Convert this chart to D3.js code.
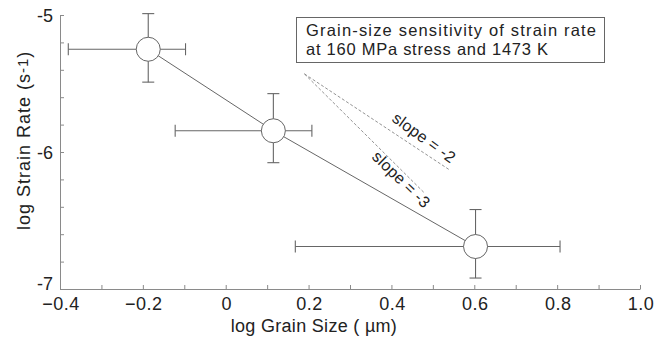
<!DOCTYPE html>
<html>
<head>
<meta charset="utf-8">
<script src="https://cdnjs.cloudflare.com/ajax/libs/d3/7.8.5/d3.min.js"></script>
<style>
  body { margin: 0; background: #fff; }
  svg text { font-family: "Liberation Sans", Arial, sans-serif; fill: #222; }
</style>
</head>
<body>
<div id="chart"></div>
<script>
// data
const grainSize = [-0.187, 0.115, 0.603];
const strainRate = [-5.25, -5.845, -6.69];
const xErrLow = [-0.38, -0.122, 0.168];
const xErrHigh = [-0.097, 0.208, 0.807];
const yErrHigh = [-4.99, -5.574, -6.42];
const yErrLow = [-5.49, -6.078, -6.92];

const xTickLabels = [-0.4, -0.2, 0, 0.2, 0.4, 0.6, 0.8, 1.0];
const yTickLabels = [-5, -6, -7];

// reference slopes (start point, end x, label)
const slopeStart = [0.19, -5.43];
const slopeNames = ["slope = -2", "slope = -3"];
const slopeValues = [-2, -3];
const slopeEndX = [0.54, 0.48];

const width = 662, height = 338;
const margin = { top: 15, right: 22, bottom: 49, left: 60 };

const svg = d3.select("#chart").append("svg")
    .attr("width", width)
    .attr("height", height);

const x = d3.scaleLinear()
    .domain([-0.4, 1.0])
    .range([margin.left, width - margin.right]);

const y = d3.scaleLinear()
    .domain([-7, -5])
    .range([height - margin.bottom, margin.top]);

const axisColor = "#8a8a8a";
const fs = 18;

// x axis
const gx = svg.append("g")
    .attr("transform", `translate(0,${height - margin.bottom})`)
    .call(d3.axisBottom(x).ticks(14).tickSize(-4).tickSizeOuter(0).tickFormat(""));
gx.select(".domain").attr("stroke", axisColor);
gx.selectAll(".tick line").attr("stroke", axisColor);

svg.append("g").selectAll("text")
    .data(xTickLabels)
    .join("text")
    .attr("x", d => x(d) + 1)
    .attr("y", height - margin.bottom + 21)
    .attr("text-anchor", "middle")
    .attr("font-size", fs)
    .attr("letter-spacing", 0.5)
    .text(d => d === 1 ? "1.0" : d3.format("")(d));

// y axis
const gy = svg.append("g")
    .attr("transform", `translate(${margin.left},0)`)
    .call(d3.axisLeft(y).ticks(10).tickSize(-4).tickSizeOuter(0).tickFormat(""));
gy.select(".domain").attr("stroke", axisColor);
gy.selectAll(".tick line").attr("stroke", axisColor);

svg.append("g").selectAll("text")
    .data(yTickLabels)
    .join("text")
    .attr("x", margin.left - 7)
    .attr("y", d => y(d) + (d === -7 ? 1 : 7))
    .attr("text-anchor", "end")
    .attr("font-size", fs)
    .text(d => d);

// axis titles
svg.append("text")
    .attr("x", x(0.213))
    .attr("y", height - 6)
    .attr("text-anchor", "middle")
    .attr("font-size", fs)
    .attr("letter-spacing", 0.3)
    .text("log Grain Size ( \u00b5m)");

const yTitle = svg.append("text")
    .attr("transform", `translate(30,${y(-5.915)}) rotate(-90)`)
    .attr("text-anchor", "middle")
    .attr("font-size", fs)
    .attr("letter-spacing", 1);
yTitle.append("tspan").text("log Strain Rate  (s");
yTitle.append("tspan").attr("font-size", 15).attr("dy", -2).text("-1");
yTitle.append("tspan").attr("dy", 2).text(")");

// reference slope lines
slopeValues.forEach((s, i) => {
  const x1 = slopeStart[0], y1 = slopeStart[1];
  const x2 = slopeEndX[i], y2 = y1 + s * (x2 - x1);
  svg.append("line")
      .attr("x1", x(x1)).attr("y1", y(y1))
      .attr("x2", x(x2)).attr("y2", y(y2))
      .attr("stroke", "#777")
      .attr("stroke-width", 0.8)
      .attr("stroke-dasharray", "3,2");
});

const slopeLabelPos = [[0.479, -5.895], [0.424, -6.2]];
const slopeAngle = [36, 44];
slopeNames.forEach((name, i) => {
  svg.append("text")
      .attr("transform", `translate(${x(slopeLabelPos[i][0])},${y(slopeLabelPos[i][1])}) rotate(${slopeAngle[i]})`)
      .attr("text-anchor", "middle")
      .attr("dy", "0.35em")
      .attr("font-size", 16)
      .attr("letter-spacing", 0.3)
      .text(name);
});

// data line
const pts = grainSize.map((g, i) => ({
  x: g, y: strainRate[i],
  xl: xErrLow[i], xh: xErrHigh[i], yl: yErrLow[i], yh: yErrHigh[i]
}));

svg.append("path")
    .datum(pts)
    .attr("fill", "none")
    .attr("stroke", "#555")
    .attr("stroke-width", 0.9)
    .attr("d", d3.line().x(d => x(d.x)).y(d => y(d.y)));

// error bars
const cap = 6;
const eb = svg.append("g").attr("stroke", "#666").attr("stroke-width", 1.1);
pts.forEach(d => {
  eb.append("line").attr("x1", x(d.xl)).attr("x2", x(d.xh)).attr("y1", y(d.y)).attr("y2", y(d.y));
  eb.append("line").attr("x1", x(d.xl)).attr("x2", x(d.xl)).attr("y1", y(d.y) - cap).attr("y2", y(d.y) + cap);
  eb.append("line").attr("x1", x(d.xh)).attr("x2", x(d.xh)).attr("y1", y(d.y) - cap).attr("y2", y(d.y) + cap);
  eb.append("line").attr("x1", x(d.x)).attr("x2", x(d.x)).attr("y1", y(d.yl)).attr("y2", y(d.yh));
  eb.append("line").attr("x1", x(d.x) - cap).attr("x2", x(d.x) + cap).attr("y1", y(d.yl)).attr("y2", y(d.yl));
  eb.append("line").attr("x1", x(d.x) - cap).attr("x2", x(d.x) + cap).attr("y1", y(d.yh)).attr("y2", y(d.yh));
});

svg.append("g").selectAll("circle")
    .data(pts)
    .join("circle")
    .attr("cx", d => x(d.x))
    .attr("cy", d => y(d.y))
    .attr("r", 12)
    .attr("fill", "#fff")
    .attr("stroke", "#666")
    .attr("stroke-width", 1);

// title box
const box = svg.append("g");
box.append("rect")
    .attr("x", 296.5).attr("y", 17.5)
    .attr("width", 308).attr("height", 45)
    .attr("fill", "#fff")
    .attr("stroke", "#666");
box.append("text").attr("x", 306).attr("y", 36).attr("font-size", 16.5)
    .attr("textLength", 290).attr("lengthAdjust", "spacing")
    .text("Grain-size sensitivity of strain rate");
box.append("text").attr("x", 306).attr("y", 55).attr("font-size", 16.5)
    .attr("textLength", 242).attr("lengthAdjust", "spacing")
    .text("at 160 MPa stress and 1473 K");
</script>
</body>
</html>
